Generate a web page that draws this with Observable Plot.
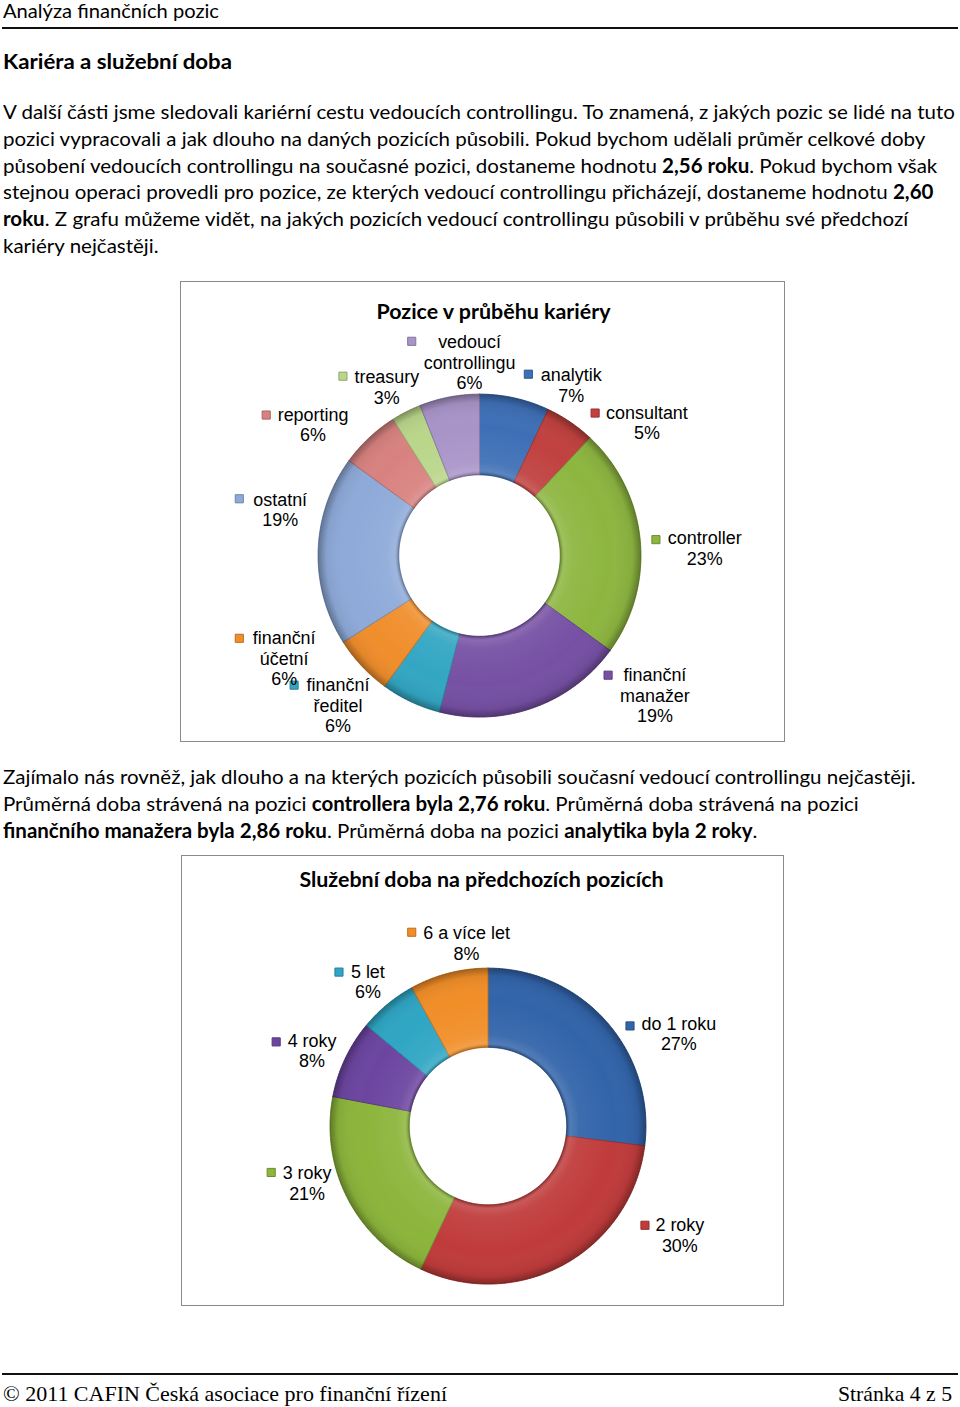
<!DOCTYPE html>
<html>
<head>
<meta charset="utf-8">
<script src="https://cdn.jsdelivr.net/npm/d3@7"></script>
<script src="https://cdn.jsdelivr.net/npm/@observablehq/plot@0.6"></script>
<style>
html, body { margin: 0; padding: 0; background: #fff; }
body { width: 960px; height: 1407px; position: relative; overflow: hidden; font-family: Lato, "Open Sans", sans-serif; color: #000; }
.ln { position: absolute; left: 3px; white-space: nowrap; font-size: 20px; line-height: 27px; transform-origin: 0 50%; }
.rule { position: absolute; left: 2px; width: 956px; height: 2px; background: #111; }
.box { position: absolute; border: 1px solid #8a8a8a; box-sizing: border-box; background: #fff; }
.box svg { position: absolute; left: -1px; top: -1px; }
.foot { position: absolute; white-space: nowrap; font-family: "Liberation Serif", "Times New Roman", serif; font-size: 22px; line-height: 27px; transform-origin: 0 50%; }
</style>
</head>
<body>
<div class="ln" id="hdr" style="top:-3px">Analýza finančních pozic</div>
<div class="rule" style="top:27px"></div>
<div class="ln" id="h1" style="top:47px;font-weight:700;font-size:21px">Kariéra a služební doba</div>

<div class="ln p" id="p1" style="top:98px">V další části jsme sledovali kariérní cestu vedoucích controllingu. To znamená, z jakých pozic se lidé na tuto</div>
<div class="ln p" style="top:125px">pozici vypracovali a jak dlouho na daných pozicích působili. Pokud bychom udělali průměr celkové doby</div>
<div class="ln p" style="top:152px">působení vedoucích controllingu na současné pozici, dostaneme hodnotu <b>2,56 roku</b>. Pokud bychom však</div>
<div class="ln p" style="top:178px">stejnou operaci provedli pro pozice, ze kterých vedoucí controllingu přicházejí, dostaneme hodnotu <b>2,60</b></div>
<div class="ln p" style="top:205px"><b>roku</b>. Z grafu můžeme vidět, na jakých pozicích vedoucí controllingu působili v průběhu své předchozí</div>
<div class="ln p" style="top:232px">kariéry nejčastěji.</div>

<div class="box" id="box1" style="left:180px;top:281px;width:605px;height:461px"></div>

<div class="ln p" style="top:763px">Zajímalo nás rovněž, jak dlouho a na kterých pozicích působili současní vedoucí controllingu nejčastěji.</div>
<div class="ln p" style="top:790px">Průměrná doba strávená na pozici <b>controllera byla 2,76 roku</b>. Průměrná doba strávená na pozici</div>
<div class="ln p" style="top:817px"><b>finančního manažera byla 2,86 roku</b>. Průměrná doba na pozici <b>analytika byla 2 roky</b>.</div>

<div class="box" id="box2" style="left:181px;top:855px;width:603px;height:451px"></div>

<div class="rule" style="top:1373px"></div>
<div class="foot" id="f1" style="left:3px;top:1380px">© 2011 CAFIN Česká asociace pro finanční řízení</div>
<div class="foot" id="f2" style="left:838px;top:1380px">Stránka 4 z 5</div>

<script>
// ---------- DATA ----------
const careerTitle = "Pozice v průběhu kariéry";
const careerLabels = ["analytik", "consultant", "controller", "finanční manažer", "finanční ředitel",
  "finanční účetní", "ostatní", "reporting", "treasury", "vedoucí controllingu"];
const careerShares = [7, 5, 23, 19, 6, 6, 19, 6, 3, 6];
const careerColors = ["#3e6fb6", "#c0413f", "#8db640", "#7650a4", "#33a6c3",
  "#f08e2c", "#8eaad9", "#d88280", "#bad68a", "#a994c8"];

const tenureTitle = "Služební doba na předchozích pozicích";
const tenureLabels = ["do 1 roku", "2 roky", "3 roky", "4 roky", "5 let", "6 a více let"];
const tenureShares = [27, 30, 21, 8, 6, 8];
const tenureColors = ["#3264aa", "#c03b3b", "#8cb53b", "#6c45a0", "#2fa6c4", "#f18e28"];

// ---------- LAYOUT (label placement in chart-box pixels) ----------
const careerLabelLayout = [
  {mx: 349, my: 93, tx: 392, ty: 94, wrap: false},
  {mx: 416, my: 132, tx: 468, ty: 132, wrap: false},
  {mx: 477, my: 259, tx: 526, ty: 258, wrap: false},
  {mx: 429, my: 395, tx: 476, ty: 395, wrap: true},
  {mx: 114, my: 405, tx: 158, ty: 405, wrap: true},
  {mx: 59, my: 358, tx: 104, ty: 358, wrap: true},
  {mx: 59, my: 218, tx: 100, ty: 219, wrap: false},
  {mx: 86, my: 134, tx: 133, ty: 134, wrap: false},
  {mx: 163, my: 95, tx: 207, ty: 96, wrap: false},
  {mx: 232, my: 60, tx: 290, ty: 61, wrap: true}
];
const tenureLabelLayout = [
  {mx: 450, my: 171, tx: 499, ty: 169, wrap: false},
  {mx: 465, my: 371, tx: 500, ty: 371, wrap: false},
  {mx: 90, my: 318, tx: 126, ty: 319, wrap: false},
  {mx: 95, my: 187, tx: 131, ty: 186, wrap: false},
  {mx: 158, my: 117, tx: 187, ty: 117, wrap: false},
  {mx: 231, my: 77, tx: 286, ty: 78, wrap: false}
];

function darker(c, k) { return d3.color(c).darker(k).formatHex(); }

function donut({id, title, labels, shares, colors, layout, W, H, cx, cy, R, r, titleX, titleY, titleSize}) {
  const pie = d3.pie().sort(null).value(d => d.v)(labels.map((k, i) => ({k, v: shares[i], c: colors[i]})));
  const pts = [];
  for (const p of pie) {
    const a0 = p.startAngle, a1 = p.endAngle;
    const n = Math.max(2, Math.ceil((a1 - a0) / 0.01));
    const ring = [];
    for (let i = 0; i <= n; i++) { const a = a0 + (a1 - a0) * i / n; ring.push([cx + R * Math.sin(a), cy - R * Math.cos(a)]); }
    for (let i = n; i >= 0; i--) { const a = a0 + (a1 - a0) * i / n; ring.push([cx + r * Math.sin(a), cy - r * Math.cos(a)]); }
    ring.push(ring[0]);
    for (const [x, y] of ring) pts.push({k: p.data.k, c: p.data.c, x, y});
  }
  // full annulus for shading overlay
  const ann = [];
  const N = 360;
  for (let i = 0; i <= N; i++) { const a = 2 * Math.PI * i / N; ann.push({x: cx + R * Math.sin(a), y: cy - R * Math.cos(a)}); }
  for (let i = N; i >= 0; i--) { const a = 2 * Math.PI * i / N; ann.push({x: cx + r * Math.sin(a), y: cy - r * Math.cos(a)}); }

  const rows = [];
  const marks = [];
  labels.forEach((k, i) => {
    const L = layout[i];
    const lines = (L.wrap ? k.split(" ") : [k]).concat([shares[i] + "%"]);
    lines.forEach((t, j) => rows.push({x: L.tx, y: L.ty + j * 20.7, t}));
    marks.push({x: L.mx, y: L.my, c: colors[i]});
  });

  const svg = Plot.plot({
    width: W, height: H, margin: 0,
    style: {background: "transparent", overflow: "visible"},
    x: {domain: [0, W], range: [0, W], axis: null},
    y: {domain: [0, H], range: [0, H], axis: null},
    color: {type: "identity"},
    marks: [
      Plot.line(pts, {x: "x", y: "y", z: "k", fill: "c", stroke: d => darker(d.c, 0.6), strokeWidth: 1, curve: "linear"}),
      Plot.line(ann, {x: "x", y: "y", fill: `url(#shade-${id})`, stroke: "none", curve: "linear"}),
      Plot.dot(marks, {x: "x", y: "y", symbol: "square", r: 4.6, fill: "c", stroke: d => darker(d.c, 0.7), strokeWidth: 1}),
      Plot.text(rows, {x: "x", y: "y", text: "t", fontSize: 18, fontFamily: "'Liberation Sans', Arial, sans-serif", fill: "#000", textAnchor: "middle", lineAnchor: "middle"}),
      Plot.text([title], {x: () => titleX, y: () => titleY, text: d => d, fontSize: titleSize, fontWeight: 700, fontFamily: "Lato, sans-serif", fill: "#000", textAnchor: "middle", lineAnchor: "middle"})
    ]
  });
  const defs = d3.select(svg).insert("defs", ":first-child");
  const g = defs.append("radialGradient").attr("id", `shade-${id}`).attr("gradientUnits", "userSpaceOnUse")
    .attr("cx", cx).attr("cy", cy).attr("r", R);
  const f = r / R;
  [[f, "#000", 0.28], [f + 0.025, "#fff", 0.15], [f + 0.08, "#fff", 0.06], [0.8, "#fff", 0.0], [0.95, "#000", 0.06], [1, "#000", 0.32]]
    .forEach(([o, c, a]) => g.append("stop").attr("offset", o).attr("stop-color", c).attr("stop-opacity", a));
  return svg;
}

document.getElementById("box1").appendChild(donut({
  id: "c1", title: careerTitle, labels: careerLabels, shares: careerShares, colors: careerColors,
  layout: careerLabelLayout, W: 605, H: 461, cx: 300, cy: 275, R: 162, r: 81, titleX: 314, titleY: 31, titleSize: 21.5
}));
document.getElementById("box2").appendChild(donut({
  id: "c2", title: tenureTitle, labels: tenureLabels, shares: tenureShares, colors: tenureColors,
  layout: tenureLabelLayout, W: 603, H: 451, cx: 307.5, cy: 271.5, R: 158.5, r: 79, titleX: 301, titleY: 25, titleSize: 21.5
}));

// fit text widths to the page layout
function fit(el, target) { const w = el.getBoundingClientRect().width; el.style.transform = `scaleX(${target / w})`; return target / w; }
const s = fit(document.getElementById("p1"), 952);
document.querySelectorAll(".p").forEach(el => { el.style.transform = `scaleX(${s})`; });
fit(document.getElementById("hdr"), 216);
fit(document.getElementById("h1"), 229);
fit(document.getElementById("f1"), 444);
fit(document.getElementById("f2"), 114);
</script>
</body>
</html>
